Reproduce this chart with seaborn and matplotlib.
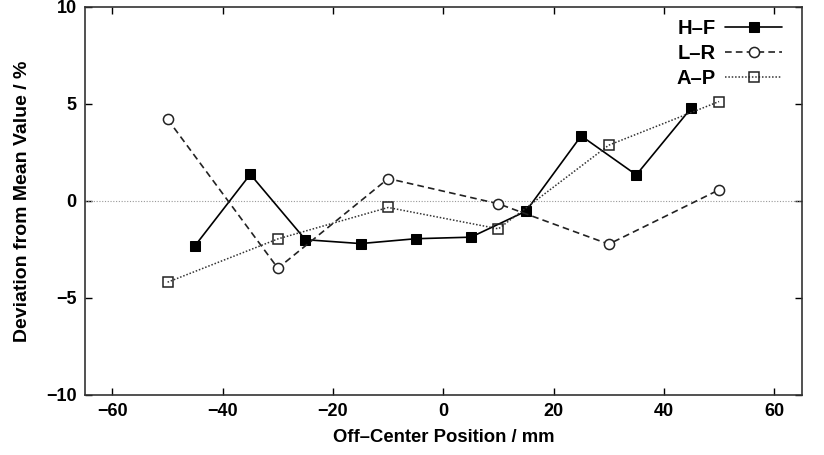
import matplotlib
matplotlib.use("Agg")
import matplotlib.pyplot as plt
import seaborn as sns
import pandas as pd

hf_x = [-45, -35, -25, -15, -5, 5, 15, 25, 35, 45]
hf_y = [-2.3, 1.37, -2.0, -2.2, -1.95, -1.87, -0.53, 3.35, 1.34, 4.8]
lr_x = [-50, -30, -10, 10, 30, 50]
lr_y = [4.21, -3.47, 1.15, -0.15, -2.23, 0.57]
ap_x = [-50, -30, -10, 10, 30, 50]
ap_y = [-4.19, -1.96, -0.34, -1.44, 2.87, 5.12]
x_ticks = [-60, -40, -20, 0, 20, 40, 60]
y_ticks = [-10, -5, 0, 5, 10]

sns.set_theme(style="white")
plt.rcParams['font.family'] = ['Liberation Sans', 'DejaVu Sans']
plt.rcParams['font.weight'] = 'bold'
plt.rcParams['text.color'] = 'black'
plt.rcParams['axes.labelcolor'] = 'black'
plt.rcParams['xtick.color'] = 'black'
plt.rcParams['ytick.color'] = 'black'

fig = plt.figure(figsize=(8.24, 4.55), dpi=100)
ax = fig.add_axes([0.103, 0.132, 0.870, 0.853])

ax.axhline(0, color='#999999', lw=0.8, ls=(0, (1, 1.5)), zorder=1)

df_hf = pd.DataFrame({'x': hf_x, 'y': hf_y})
df_lr = pd.DataFrame({'x': lr_x, 'y': lr_y})
df_ap = pd.DataFrame({'x': ap_x, 'y': ap_y})

sns.lineplot(data=df_hf, x='x', y='y', ax=ax, color='black', lw=1.2,
             marker='s', markersize=6.5, markerfacecolor='black', markeredgecolor='black',
             label='H\u2013F', zorder=3)
sns.lineplot(data=df_lr, x='x', y='y', ax=ax, color='#222222', lw=1.2, linestyle=(0, (4, 2.5)),
             marker='o', markersize=7.3, markerfacecolor='white', markeredgecolor='#222222',
             markeredgewidth=1.1, label='L\u2013R', zorder=3)
sns.lineplot(data=df_ap, x='x', y='y', ax=ax, color='#333333', lw=1.1, linestyle=(0, (1, 1.2)),
             marker='s', markersize=7, markerfacecolor='none', markeredgecolor='#222222',
             markeredgewidth=1.1, label='A\u2013P', zorder=3)

ax.set_xlim(-65, 65)
ax.set_ylim(-10, 10)
ax.set_xticks(x_ticks)
ax.set_yticks(y_ticks)
ax.set_xticklabels([f"{v:d}".replace('-', '\u2212') for v in x_ticks], fontsize=13, fontweight='bold')
ax.set_yticklabels([f"{v:d}".replace('-', '\u2212') for v in y_ticks], fontsize=13, fontweight='bold')
ax.tick_params(direction='in', length=5, width=1, top=True, right=True,
               bottom=True, left=True, labeltop=False, labelright=False, pad=6,
               colors='black')
for s in ax.spines.values():
    s.set_color('#333333')
    s.set_linewidth(1.2)

ax.set_xlabel('Off\u2013Center Position / mm', fontsize=13.3, fontweight='bold', labelpad=6)
ax.set_ylabel('Deviation from Mean Value / %', fontsize=14, fontweight='bold', labelpad=11)

leg = ax.legend(loc='upper right', bbox_to_anchor=(0.989, 1.0), frameon=False,
                markerfirst=False, fontsize=14.5, handlelength=2.8, borderaxespad=0.2,
                labelspacing=0.3, handletextpad=0.5)
for t in leg.get_texts():
    t.set_fontweight('bold')
    t.set_color('black')

fig.savefig('out.png', dpi=100)
